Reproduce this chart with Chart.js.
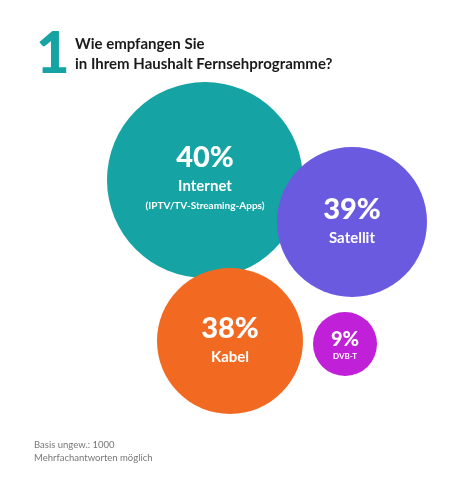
<!DOCTYPE html>
<html>
<head>
<meta charset="utf-8">
<script src="https://cdn.jsdelivr.net/npm/chart.js@4"></script>
<style>
  body { margin: 0; background: #fff; font-family: "Open Sans", sans-serif; }
  #wrap { position: relative; width: 468px; height: 477px; }
  canvas { position: absolute; left: 0; top: 0; width: 468px; height: 477px; }
  .num { position: absolute; left: 36px; top: 22px; font: 900 58px "Lato", sans-serif; color: #16a3a3; line-height: 1; }
  .title { position: absolute; left: 75px; top: 33px; font: 700 15px "Lato", sans-serif; color: #1a1a1a; line-height: 20px; }
  .foot { position: absolute; left: 34px; top: 438px; font: 400 9.5px "Lato", sans-serif; color: #777; line-height: 13px; }
</style>
</head>
<body>
<div id="wrap">
  <canvas id="chart" width="468" height="477"></canvas>
  <div class="num">1</div>
  <div class="title">Wie empfangen Sie<br>in Ihrem Haushalt Fernsehprogramme?</div>
  <div class="foot">Basis ungew.: 1000<br>Mehrfachantworten möglich</div>
</div>
<script>
const categories = ["Internet", "Satellit", "Kabel", "DVB-T"];
const subLabels = ["(IPTV/TV-Streaming-Apps)", "", "", ""];
const shares = [40, 39, 38, 9];
const colors = ["#16a3a3", "#6a5ae0", "#f26a22", "#c020d8"];
// layout of the bubbles
const centerX = [205, 352, 230, 345];
const centerY = [180, 222, 341, 344];
const radii = [98, 75, 73, 32];

const labelPlugin = {
    id: "bubbleLabels",
    afterDatasetsDraw(chart) {
        const ctx = chart.ctx;
        const meta = chart.getDatasetMeta(0);
        ctx.save();
        ctx.fillStyle = "#fff";
        ctx.textAlign = "center";
        ctx.textBaseline = "middle";
        meta.data.forEach((el, i) => {
            const small = i === 3;
            const big = i === 0;
            const dy = big ? -22 : (small ? -4 : -12);
            ctx.font = `900 ${small ? 20 : 29}px Lato, sans-serif`;
            ctx.fillText(shares[i] + "%", el.x, el.y + dy);
            ctx.font = `700 ${small ? 8 : 15}px Lato, sans-serif`;
            ctx.fillText(categories[i], el.x, el.y + dy + (small ? 16 : 28));
            if (subLabels[i]) {
                ctx.font = "700 10px Lato, sans-serif";
                ctx.fillText(subLabels[i], el.x, el.y + dy + 48);
            }
        });
        ctx.restore();
    }
};

const chart = new Chart(document.getElementById("chart"), {
    type: "bubble",
    data: {
        datasets: [{
            data: categories.map((c, i) => ({ x: centerX[i], y: centerY[i], r: radii[i] })),
            backgroundColor: colors,
            borderWidth: 0,
            hoverRadius: 0,
            clip: false
        }]
    },
    options: {
        responsive: false,
        maintainAspectRatio: false,
        devicePixelRatio: 1,
        animation: false,
        layout: { padding: 0 },
        plugins: { legend: { display: false }, tooltip: { enabled: false } },
        scales: {
            x: { type: "linear", display: false, min: 0, max: 468 },
            y: { type: "linear", display: false, min: 0, max: 477, reverse: true }
        }
    },
    plugins: [labelPlugin]
});

// bubble padding shrinks the chart area; make scale values equal canvas pixels
const area = chart.chartArea;
chart.options.scales.x.min = area.left;
chart.options.scales.x.max = area.right;
chart.options.scales.y.min = area.top;
chart.options.scales.y.max = area.bottom;
chart.update();
</script>
</body>
</html>
